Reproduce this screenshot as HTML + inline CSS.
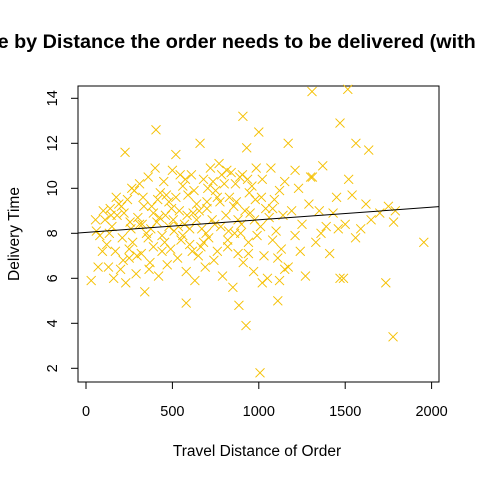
<!DOCTYPE html>
<html><head><meta charset="utf-8"><style>
html,body{margin:0;padding:0;background:#fff;}
svg{display:block;font-family:"Liberation Sans",Arial,sans-serif;}
</style></head><body>
<svg id="chart" width="480" height="480" viewBox="0 0 480 480">
<text x="261" y="48" text-anchor="middle" font-size="19.8" font-weight="bold">Delivery Time by Distance the order needs to be delivered (with Regression Line)</text>
<rect x="78" y="86" width="361" height="296" fill="none" stroke="#000"/>
<g id="xaxis"></g>
<g id="yaxis"></g>
<g id="points"></g>
<g id="reg"></g>
<text x="257" y="456" text-anchor="middle" font-size="15.5">Travel Distance of Order</text>
<text x="0" y="0" transform="translate(19,234) rotate(-90)" text-anchor="middle" font-size="15.5">Delivery Time</text>
</svg>
<script>
const xTicks=[0,500,1000,1500,2000];
const yTicks=[2,4,6,8,10,12,14];
const distance=[60,80,100,110,120,130,140,150,160,170,180,190,200,210,220,230,240,250,260,270,280,290,300,310,320,330,340,350,360,370,380,390,400,410,420,430,440,450,460,470,480,490,500,510,520,530,540,550,560,570,580,590,600,610,620,630,640,650,660,670,680,690,700,710,720,730,740,750,760,770,780,790,800,810,820,830,840,850,860,870,880,890,900,910,920,930,940,950,960,970,980,990,
55,95,135,175,215,255,295,335,375,415,455,495,535,575,615,655,695,735,775,815,855,895,935,975,1015,
70,145,205,265,325,365,425,465,505,545,585,625,665,705,745,785,825,865,905,945,985,
1010,1020,1030,1040,1050,1060,1070,1080,1090,1100,1110,1120,1130,1140,1150,1170,1190,1210,1230,1250,1270,1290,1310,1330,1350,1370,1390,1410,1430,1450,1470,1500,1520,1540,1560,1590,1620,1650,1700,1750,1780,1120,1240,1360,1460,1210,1300,1080,1020,1150,
1308,1515,908,405,1000,226,1562,1470,1170,1636,1007,1777,926,885,580,1735,1490,1110,30,1955,1790,
250,310,390,440,520,560,640,700,760,820,880,940,600,680,480,360];
const deliveryTime=[8.1,7.9,9.0,8.6,7.5,6.5,9.1,8.3,6.0,7.2,8.8,9.3,6.4,7.8,8.9,5.8,9.5,6.9,8.2,7.6,9.9,6.2,8.7,10.2,7.1,9.6,5.4,8.0,10.5,6.7,9.2,7.4,10.9,8.5,6.1,9.8,7.9,10.3,8.8,6.6,9.4,7.3,10.8,8.1,11.5,6.9,9.0,7.7,10.1,8.4,6.3,9.7,7.5,10.6,8.9,5.9,9.3,7.0,12.0,8.2,10.4,6.5,9.1,7.8,10.9,8.6,6.8,9.9,7.2,11.1,8.3,6.1,10.2,8.8,7.4,9.6,10.7,5.6,8.0,9.4,7.1,10.5,8.4,6.7,9.0,11.8,7.6,8.9,10.1,6.3,9.5,7.9,
8.6,7.2,8.0,9.6,6.8,8.5,7.0,9.2,8.2,9.5,7.6,9.1,8.3,10.4,7.2,9.0,8.0,10.3,9.4,10.8,9.2,8.0,10.4,8.6,9.6,
6.5,8.8,9.2,10.0,8.4,6.4,8.7,9.7,8.6,10.6,8.8,9.9,7.4,10.0,8.4,10.6,8.1,10.2,10.6,9.8,10.9,
8.3,10.4,7.0,9.1,6.0,8.7,10.9,7.7,9.5,8.1,6.9,9.9,7.3,8.8,10.3,6.5,9.0,7.9,10.0,8.4,6.1,9.3,10.5,7.6,9.0,11.0,8.3,7.1,8.9,9.6,6.0,8.4,10.4,9.7,7.8,8.2,9.3,8.6,8.9,9.2,8.5,5.9,7.2,8.0,8.2,10.8,10.5,9.1,5.8,6.4,
14.3,14.4,13.2,12.6,12.5,11.6,12.0,12.9,12.0,11.7,1.8,3.4,3.9,4.8,4.9,5.8,6.0,5.0,5.9,7.6,9.0,
7.3,8.4,8.9,7.2,9.6,7.9,8.6,9.4,9.6,7.7,8.6,7.1,8.2,7.6,8.3,7.8];
const regIntercept=8.04, regSlope=0.00056;
const NS="http://www.w3.org/2000/svg";
const xs=v=>86+v*0.1728;
const ys=v=>98.3+(14-v)*22.5;
function mk(tag,attrs,parent){const e=document.createElementNS(NS,tag);for(const k in attrs)e.setAttribute(k,attrs[k]);parent.appendChild(e);return e;}
const xa=document.getElementById('xaxis');
mk('line',{x1:xs(xTicks[0]),x2:xs(xTicks[xTicks.length-1]),y1:382,y2:382,stroke:'#000'},xa);
xTicks.forEach(t=>{
 const l=mk('line',{x1:xs(t),x2:xs(t),y1:382,y2:389,stroke:'#000'},xa);
 
 
 const tx=mk('text',{x:xs(t),y:416,'text-anchor':'middle','font-size':'14.5'},xa);
 tx.textContent=t;
 
 
});
const ya=document.getElementById('yaxis');
mk('line',{x1:78,x2:78,y1:ys(yTicks[0]),y2:ys(yTicks[yTicks.length-1]),stroke:'#000'},ya);
yTicks.forEach(t=>{
 const l=mk('line',{x1:71,x2:78,y1:ys(t),y2:ys(t),stroke:'#000'},ya);
 
 
 const tx=mk('text',{x:0,y:0,transform:`translate(57,${ys(t)}) rotate(-90)`,'text-anchor':'middle','font-size':'14.5'},ya);
 tx.textContent=t;
 
 
});
const pg=document.getElementById('points');
distance.forEach((d,i)=>{
 const cx=xs(d),cy=ys(deliveryTime[i]),r=4.5;
 const p=mk('path',{d:`M${cx-r},${cy-r}L${cx+r},${cy+r}M${cx-r},${cy+r}L${cx+r},${cy-r}`,stroke:'#f5c000','stroke-width':'1',fill:'none'},pg);
 
 
});
const rg=document.getElementById('reg');
const xMin=(78-86)/0.1728,xMax=(439-86)/0.1728;
const rl=mk('line',{x1:78,x2:439,y1:ys(regIntercept+regSlope*xMin),y2:ys(regIntercept+regSlope*xMax),stroke:'#000','stroke-width':'1'},rg);


</script>
</body></html>
